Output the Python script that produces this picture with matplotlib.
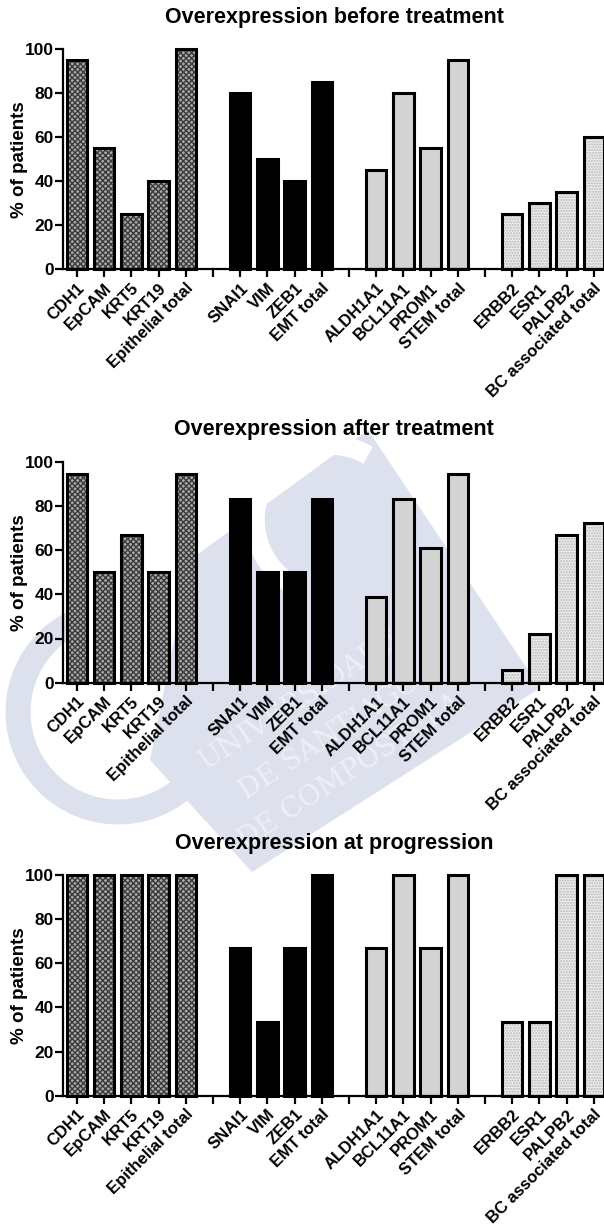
import matplotlib
matplotlib.use("Agg")
import matplotlib.pyplot as plt
from matplotlib.patches import Polygon, Arc

plt.rcParams['font.family'] = ['Liberation Sans', 'DejaVu Sans']
plt.rcParams['font.weight'] = 'bold'

# ---- data -------------------------------------------------------------
epithelial_genes = ["CDH1", "EpCAM", "KRT5", "KRT19", "Epithelial total"]
emt_genes = ["SNAI1", "VIM", "ZEB1", "EMT total"]
stem_genes = ["ALDH1A1", "BCL11A1", "PROM1", "STEM total"]
bc_genes = ["ERBB2", "ESR1", "PALPB2", "BC associated total"]

titles = ["Overexpression before treatment",
          "Overexpression after treatment",
          "Overexpression at progression"]

before_epithelial = [95, 55, 25, 40, 100]
before_emt = [80, 50, 40, 85]
before_stem = [45, 80, 55, 95]
before_bc = [25, 30, 35, 60]

after_epithelial = [94.4, 50, 66.7, 50, 94.4]
after_emt = [83.3, 50, 50, 83.3]
after_stem = [38.9, 83.3, 61.1, 94.4]
after_bc = [5.6, 22.2, 66.7, 72.2]

progression_epithelial = [100, 100, 100, 100, 100]
progression_emt = [66.7, 33.3, 66.7, 100]
progression_stem = [66.7, 100, 66.7, 100]
progression_bc = [33.3, 33.3, 100, 100]

y_ticks = [0, 20, 40, 60, 80, 100]
y_label = "% of patients"

panels = [
    (before_epithelial, before_emt, before_stem, before_bc),
    (after_epithelial, after_emt, after_stem, after_bc),
    (progression_epithelial, progression_emt, progression_stem, progression_bc),
]
gene_groups = [epithelial_genes, emt_genes, stem_genes, bc_genes]

# ---- styling per group: (face, hatch, hatch colour) --------------------
group_styles = [
    ("#a9a9a9", "xxxxxx", "#3a3a3a"),
    ("#000000", None, None),
    ("#d3d3d3", None, None),
    ("#ececec", "......", "#b8b8b8"),
]

W, H = 604, 1224
fig = plt.figure(figsize=(W / 100, H / 100), dpi=100)


def px(x, y):
    return (x / W, 1 - y / H)


# faint institutional watermark behind the middle panel
wm_color = "#dde1ee"
wm = Polygon([px(368, 430), px(540, 688), px(252, 872), px(150, 760), px(190, 560)],
             closed=True, transform=fig.transFigure, facecolor=wm_color,
             edgecolor="none", zorder=-2)
fig.patches.append(wm)
u_arc = Arc(px(118, 712), 2 * 100 / W, 2 * 100 / H, theta1=125, theta2=330,
            transform=fig.transFigure, color=wm_color, linewidth=18, zorder=-2)
fig.patches.append(u_arc)
c_arc = Arc(px(330, 520), 2 * 75 / W, 2 * 75 / H, theta1=40, theta2=230,
            transform=fig.transFigure, color="white", linewidth=14, zorder=-1.5)
fig.patches.append(c_arc)
for txt, (tx, ty) in zip(["UNIVERSIDADE", "DE SANTIAGO", "DE COMPOSTELA"],
                         [(300, 700), (330, 737), (350, 772)]):
    t = fig.text(tx / W, 1 - ty / H, txt, rotation=33, ha="center", va="center",
                 fontsize=20, family="DejaVu Serif", weight="normal",
                 color="#eef0f7")
    t.set_zorder(-1)

# axes geometry (pixels, top-down)
slot_px = 27.2
first_px = 77.0
ax_left = first_px - 0.5 * slot_px
ax_right = first_px + 19.4 * slot_px
panel_rows = [(49.0, 269.3), (461.7, 682.7), (875.0, 1095.7)]
title_y = [17, 430, 843]

# slot positions: groups separated by an empty slot
positions = []
labels = []
slot = 0
for gi, genes in enumerate(gene_groups):
    grp = []
    for g in genes:
        grp.append(slot)
        labels.append(g)
        slot += 1
    positions.append(grp)
    if gi < len(gene_groups) - 1:
        labels.append("")
        slot += 1
n_slots = slot

bar_w = 0.75

for pi, (vals, (top, bot)) in enumerate(zip(panels, panel_rows)):
    ax = fig.add_axes([ax_left / W, 1 - bot / H,
                       (ax_right - ax_left) / W, (bot - top) / H])
    ax.set_facecolor("none")
    ax.set_zorder(1)
    for gi, gvals in enumerate(vals):
        face, hatch, hcol = group_styles[gi]
        x = positions[gi]
        ax.bar(x, gvals, width=bar_w, color=face, edgecolor="none",
               linewidth=0, zorder=2, clip_on=False)
        if hatch:
            ax.bar(x, gvals, width=bar_w, color="none", edgecolor=hcol,
                   hatch=hatch, linewidth=0, zorder=3, clip_on=False)
        ax.bar(x, gvals, width=bar_w, color="none", edgecolor="black",
               linewidth=2.2, zorder=4, clip_on=False)

    ax.set_xlim(-0.5, 19.4)
    ax.set_ylim(0, 100)
    ax.set_yticks(y_ticks)
    ax.set_yticklabels([str(t) for t in y_ticks], fontsize=12.5, fontweight="bold")
    ax.set_xticks(range(n_slots))
    ax.set_xticklabels(labels, rotation=45, ha="right", va="top",
                       rotation_mode="anchor", fontsize=12, fontweight="bold")
    ax.tick_params(axis="both", direction="out", width=1.6, length=6, pad=2)
    ax.tick_params(axis="y", pad=1)
    for s in ("top", "right"):
        ax.spines[s].set_visible(False)
    for s in ("left", "bottom"):
        ax.spines[s].set_linewidth(1.6)
    ax.set_ylabel(y_label, fontsize=13.5, fontweight="bold")
    ax.yaxis.set_label_coords(-(ax_left - 28.0) / (ax_right - ax_left), 0.5)

    fig.text(((ax_left + ax_right) / 2) / W, 1 - title_y[pi] / H, titles[pi],
             ha="center", va="center", fontsize=15.5, fontweight="bold")

fig.savefig("out.png", dpi=100)
